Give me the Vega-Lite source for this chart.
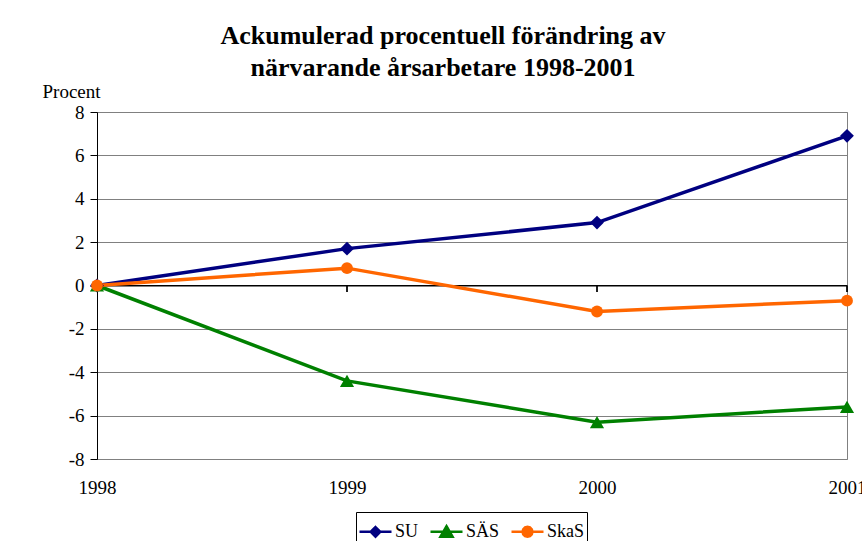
{
  "$schema": "https://vega.github.io/schema/vega-lite/v6.json",
  "width": 750,
  "height": 347,
  "autosize": "none",
  "padding": {"left": 97, "top": 112, "right": 15, "bottom": 82},
  "background": "white",
  "config": {
    "font": "Liberation Serif",
    "view": {"stroke": "#808080", "strokeWidth": 1},
    "legend": {
      "strokeColor": "black",
      "padding": 2,
      "labelFontSize": 18,
      "labelFont": "Liberation Serif",
      "labelColor": "black",
      "symbolSize": 1024,
      "symbolStrokeWidth": 2.5,
      "labelOffset": 2,
      "columnPadding": 6
    }
  },
  "title": {
    "text": ["Ackumulerad procentuell förändring av", "närvarande årsarbetare 1998-2001"],
    "fontSize": 26,
    "fontWeight": "bold",
    "font": "Liberation Serif",
    "color": "black",
    "anchor": "middle",
    "dx": -29,
    "dy": 55,
    "baseline": "bottom",
    "offset": 30,
    "lineHeight": 32
  },
  "data": {
    "values": [
      {"year": "1998", "series": "SU", "value": 0},
      {"year": "1999", "series": "SU", "value": 1.7},
      {"year": "2000", "series": "SU", "value": 2.9},
      {"year": "2001", "series": "SU", "value": 6.9},
      {"year": "1998", "series": "SÄS", "value": 0},
      {"year": "1999", "series": "SÄS", "value": -4.4},
      {"year": "2000", "series": "SÄS", "value": -6.3},
      {"year": "2001", "series": "SÄS", "value": -5.6},
      {"year": "1998", "series": "SkaS", "value": 0},
      {"year": "1999", "series": "SkaS", "value": 0.8},
      {"year": "2000", "series": "SkaS", "value": -1.2},
      {"year": "2001", "series": "SkaS", "value": -0.7}
    ]
  },
  "encoding": {
    "x": {
      "field": "year",
      "type": "ordinal",
      "scale": {"type": "point", "padding": 0},
      "axis": {
        "orient": "bottom",
        "domain": false,
        "ticks": false,
        "grid": false,
        "labelAngle": 0,
        "labelFontSize": 19,
        "labelFont": "Liberation Serif",
        "labelColor": "black",
        "labelPadding": 19,
        "labelBaseline": "top",
        "title": null
      }
    }
  },
  "layer": [
    {
      "mark": {"type": "rule", "color": "black", "strokeWidth": 1},
      "encoding": {
        "x": null,
        "y": {
          "datum": 0,
          "type": "quantitative",
          "scale": {"domain": [-8, 8], "nice": false},
          "axis": {
            "values": [-8, -6, -4, -2, 0, 2, 4, 6, 8],
            "labelExpr": "toString(datum.value)",
            "grid": true,
            "gridColor": "#808080",
            "gridWidth": 1,
            "domainColor": "black",
            "tickColor": "black",
            "tickSize": 7,
            "labelFontSize": 19,
            "labelFont": "Liberation Serif",
            "labelColor": "black",
            "labelPadding": 6,
            "title": "Procent",
            "titleAngle": 0,
            "titleX": -26,
            "titleY": -15,
            "titleAlign": "center",
            "titleBaseline": "alphabetic",
            "titleFontWeight": "normal",
            "titleFontSize": 19,
            "titleFont": "Liberation Serif",
            "titleColor": "black"
          }
        }
      }
    },
    {
      "mark": {"type": "rule", "color": "black", "strokeWidth": 1},
      "encoding": {
        "y": {"datum": 0, "type": "quantitative"},
        "y2": {"datum": -0.3}
      }
    },
    {
      "mark": {"type": "line", "strokeWidth": 3.5},
      "encoding": {
        "y": {"field": "value", "type": "quantitative"},
        "color": {
          "field": "series",
          "type": "nominal",
          "scale": {"domain": ["SU", "SÄS", "SkaS"], "range": ["#000080", "#008000", "#FF6600"]}
        }
      }
    },
    {
      "transform": [{"filter": {"field": "series", "equal": "SU"}}],
      "mark": {"type": "point", "filled": true, "opacity": 1, "size": 190, "shape": "diamond"},
      "encoding": {
        "y": {"field": "value", "type": "quantitative"},
        "color": {"field": "series", "type": "nominal"}
      }
    },
    {
      "transform": [{"filter": {"field": "series", "equal": "SÄS"}}],
      "mark": {"type": "point", "filled": true, "opacity": 1, "size": 200, "shape": "triangle-up"},
      "encoding": {
        "y": {"field": "value", "type": "quantitative"},
        "color": {"field": "series", "type": "nominal"}
      }
    },
    {
      "transform": [{"filter": {"field": "series", "equal": "SkaS"}}],
      "mark": {"type": "point", "filled": true, "opacity": 1, "size": 140, "shape": "circle"},
      "encoding": {
        "y": {"field": "value", "type": "quantitative"},
        "color": {
          "field": "series",
          "type": "nominal",
          "title": null,
          "legend": {
            "orient": "none",
            "legendX": 259,
            "legendY": 400,
            "direction": "horizontal",
            "title": null,
            "symbolType": {"expr": "datum.value === 'SU' ? 'M-1,0L1,0M0,-0.3L0.3,0L0,0.3L-0.3,0Z' : datum.value === 'SÄS' ? 'M-1,0L1,0M0,-0.35L0.38,0.3L-0.38,0.3Z' : 'M-1,0L1,0M0.31,0L0.27,0.155L0.155,0.27L0,0.31L-0.155,0.27L-0.27,0.155L-0.31,0L-0.27,-0.155L-0.155,-0.27L0,-0.31L0.155,-0.27L0.27,-0.155Z'"},
            "encode": {
              "symbols": {
                "fill": {"value": {"expr": "scale('color', datum.value)"}},
                "stroke": {"value": {"expr": "scale('color', datum.value)"}},
                "strokeWidth": {"value": 2.5},
                "size": {"value": 1024},
                "opacity": {"value": 1}
              }
            }
          }
        }
      }
    }
  ]
}
